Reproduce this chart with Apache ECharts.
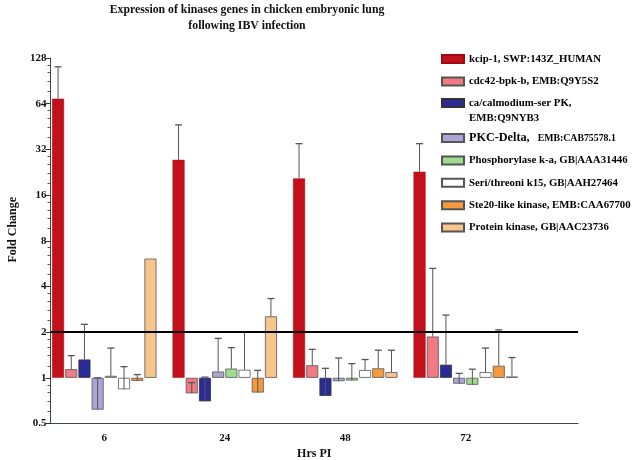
<!DOCTYPE html>
<html>
<head>
<meta charset="utf-8">
<script src="https://cdn.jsdelivr.net/npm/echarts@6/dist/echarts.min.js"></script>
<style>html,body{margin:0;padding:0;background:#fff}#c{width:632px;height:460px}</style>
</head>
<body>
<div id="c"></div>
<script>
const categories = ['6', '24', '48', '72'];
const yTicks = [0.5, 1, 2, 4, 8, 16, 32, 64, 128];
const seriesNames = [
  'kcip-1, SWP:143Z_HUMAN',
  'cdc42-bpk-b, EMB:Q9Y5S2',
  'ca/calmodium-ser PK,\nEMB:Q9NYB3',
  'PKC-Delta, EMB:CAB75578.1',
  'Phosphorylase k-a, GB|AAA31446',
  'Seri/threoni k15, GB|AAH27464',
  'Ste20-like kinase, EMB:CAA67700',
  'Protein kinase, GB|AAC23736'
];
const kcip = [69, 27.3, 20.6, 22.8];
const kcipErr = [112, 46.4, 34.9, 34.9];
const cdc42 = [1.14, 0.79, 1.21, 1.87];
const cdc42Err = [1.40, 0.93, 1.54, 5.26];
const camk = [1.32, 0.70, 0.76, 1.22];
const camkErr = [2.25, 1.01, 1.155, 2.59];
const pkcDelta = [0.617, 1.10, 0.95, 0.915];
const pkcDeltaErr = [1.0, 1.82, 1.35, 1.07];
const phos = [1.03, 1.15, 0.96, 0.90];
const phosErr = [1.57, 1.58, 1.24, 1.14];
const seri = [0.84, 1.13, 1.125, 1.09];
const seriErr = [1.185, 2.0, 1.32, 1.57];
const ste20 = [0.955, 0.80, 1.155, 1.2];
const ste20Err = [1.05, 1.12, 1.52, 2.07];
const protKin = [6.1, 2.54, 1.09, 1.02];
const protKinErr = [null, 3.33, 1.52, 1.36];
const thresholdLine = 2;

const values = [kcip, cdc42, camk, pkcDelta, phos, seri, ste20, protKin];
const errors = [kcipErr, cdc42Err, camkErr, pkcDeltaErr, phosErr, seriErr, ste20Err, protKinErr];
const colors = ['#c4101a', '#f27a82', '#2b2b98', '#aaa6d8', '#9edc8e', '#ffffff', '#f59b3e', '#f8c68c'];
const borders = ['#9a0c12', '#555', '#333', '#555', '#555', '#555', '#555', '#555'];

const FONT = 'Liberation Serif';
const BAR_W = 12, GAP = 1.2, N = 8;
const groupW = N * BAR_W + (N - 1) * GAP;
function offsetOf(i) { return -groupW / 2 + BAR_W / 2 + i * (BAR_W + GAP); }

const gridTop = 58, gridBottom = 460 - 423.5;

const series = [];
series.push({
  type: 'line', xAxisIndex: 0, yAxisIndex: 0, data: [], z: 6,
  markLine: {
    silent: true, symbol: 'none', label: { show: false },
    lineStyle: { color: '#000', width: 2, type: 'solid' },
    data: [{ yAxis: thresholdLine }]
  }
});
values.forEach((vals, i) => {
  series.push({
    name: seriesNames[i], type: 'bar', xAxisIndex: 1, yAxisIndex: 1,
    barWidth: BAR_W, barGap: '10%', z: 2,
    itemStyle: { color: colors[i], borderColor: borders[i], borderWidth: i === 0 ? 0.5 : 0.8 },
    data: vals
  });
});
values.forEach((vals, i) => {
  series.push({
    type: 'custom', xAxisIndex: 1, yAxisIndex: 1, z: 4, silent: true,
    data: vals.map((v, k) => [k, v, errors[i][k] == null ? NaN : errors[i][k]]),
    renderItem: function (params, api) {
      const ci = api.value(0), m = api.value(1), e = api.value(2);
      if (e == null || isNaN(e)) return;
      const c = api.coord([ci, m]);
      const t = api.coord([ci, e]);
      const x = c[0] + offsetOf(i);
      return {
        type: 'group', children: [
          { type: 'line', shape: { x1: x, y1: c[1], x2: x, y2: t[1] }, style: { stroke: '#555', lineWidth: 1 } },
          { type: 'line', shape: { x1: x - 3.5, y1: t[1], x2: x + 3.5, y2: t[1] }, style: { stroke: '#555', lineWidth: 1.3 } }
        ]
      };
    }
  });
});

const legendText = { color: '#000', fontFamily: FONT, fontWeight: 'bold', fontSize: 10.8, lineHeight: 12 };
const legendBase = {
  orient: 'vertical', left: 441, padding: 0, itemWidth: 22, itemHeight: 8, itemGap: 10.4,
  icon: 'rect', selectedMode: false, textStyle: legendText
};

const option = {
  animation: false,
  backgroundColor: '#fff',
  title: {
    text: 'Expression of kinases genes in chicken embryonic lung\nfollowing IBV infection',
    left: 247, top: 2, padding: 0, textAlign: 'center',
    textStyle: { fontFamily: FONT, fontWeight: 'bold', fontSize: 11.8, lineHeight: 16, color: '#111' }
  },
  legend: [
    Object.assign({}, legendBase, { top: 53, data: [seriesNames[0], seriesNames[1]] }),
    Object.assign({}, legendBase, {
      top: 80.5, data: [seriesNames[2]],
      formatter: function () { return '{e| }\n{a|ca/calmodium-ser PK,}\n{a|EMB:Q9NYB3}'; },
      textStyle: Object.assign({}, legendText, {
        lineHeight: 15,
        rich: {
          e: { fontSize: 10.8, lineHeight: 15 },
          a: { fontFamily: FONT, fontWeight: 'bold', fontSize: 10.8, lineHeight: 15, color: '#000' }
        }
      })
    }),
    Object.assign({}, legendBase, {
      top: 132, data: seriesNames.slice(3),
      formatter: function (name) {
        if (name.indexOf('PKC-Delta') === 0) return '{big|PKC-Delta,}   {sm|EMB:CAB75578.1}';
        return name;
      },
      textStyle: Object.assign({}, legendText, {
        rich: {
          big: { fontFamily: FONT, fontWeight: 'bold', fontSize: 12.2, lineHeight: 12, color: '#000' },
          sm: { fontFamily: FONT, fontWeight: 'bold', fontSize: 9.8, lineHeight: 12, color: '#000' }
        }
      })
    })
  ],
  grid: [
    { left: 50.5, right: 632 - 578, top: gridTop, bottom: gridBottom, containLabel: false, outerBoundsMode: 'none' },
    { left: 44, width: 482, top: gridTop, bottom: gridBottom, containLabel: false, outerBoundsMode: 'none' }
  ],
  xAxis: [
    {
      gridIndex: 0, type: 'value', min: 0, max: 1,
      axisLine: { show: true, lineStyle: { color: '#3d4a3d', width: 1 } },
      axisTick: { show: false }, axisLabel: { show: false }, splitLine: { show: false },
      name: 'Hrs PI', nameLocation: 'middle', nameGap: 24,
      nameTextStyle: { fontFamily: FONT, fontWeight: 'bold', fontSize: 12, color: '#111' }
    },
    {
      gridIndex: 1, type: 'category', data: categories,
      axisLine: { show: false }, axisTick: { show: false },
      axisLabel: { margin: 9, fontFamily: FONT, fontWeight: 'bold', fontSize: 11, color: '#111' }
    }
  ],
  yAxis: [
    {
      gridIndex: 0, type: 'log', logBase: 2, min: 0.5, max: 128, splitNumber: 8,
      axisLine: { show: true, lineStyle: { color: '#3d4a3d', width: 1 } },
      axisTick: { show: true, length: 5, lineStyle: { color: '#333' } },
      minorTick: { show: true, splitNumber: 5, length: 3, lineStyle: { color: '#555' } },
      splitLine: { show: false },
      axisLabel: {
        fontFamily: FONT, fontWeight: 'bold', fontSize: 11, color: '#111', margin: 4,
        formatter: function (v) { const r = yTicks.find(t => Math.abs(t - v) / t < 1e-6); return r == null ? '' : String(r); }
      },
      name: 'Fold Change', nameLocation: 'middle', nameGap: 32, nameRotate: 90,
      nameTextStyle: { fontFamily: FONT, fontWeight: 'bold', fontSize: 12, color: '#111', padding: [0, 0, 0, 22] }
    },
    {
      gridIndex: 1, type: 'log', logBase: 2, min: 0.5, max: 128, show: false
    }
  ],
  series: series
};

const chart = echarts.init(document.getElementById('c'), null, { renderer: 'canvas' });
chart.setOption(option);
</script>
</body>
</html>
